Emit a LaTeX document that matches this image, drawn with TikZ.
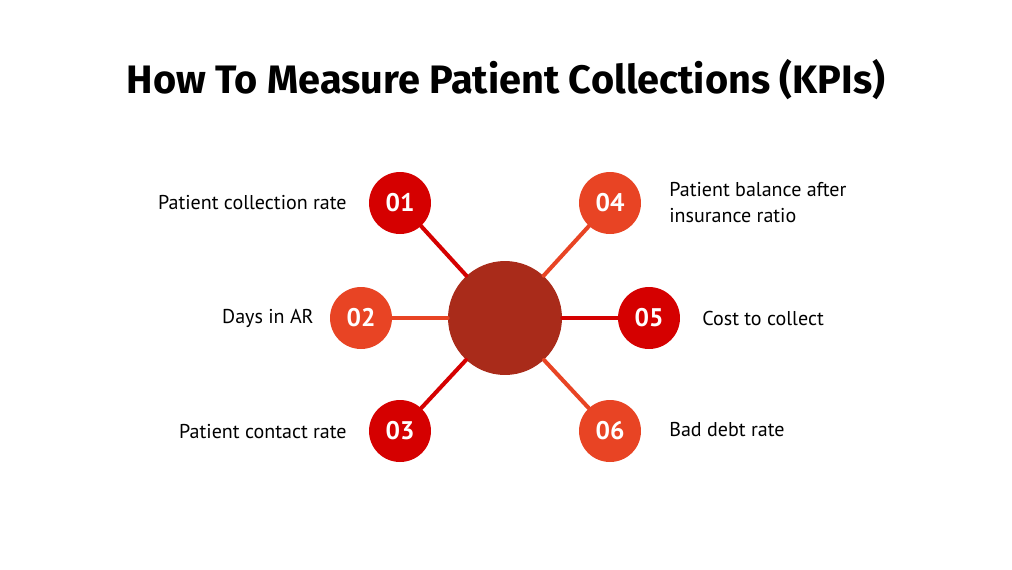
\documentclass[tikz,border=0pt]{standalone}
\usepackage{fontspec}
\setmainfont{PT Sans}
\newfontfamily\titlefont{Fira Sans}
\usetikzlibrary{positioning}
\definecolor{kpidark}{HTML}{D50000}
\definecolor{kpiorange}{HTML}{E84424}
\definecolor{kpihub}{HTML}{A92B1A}
\tikzset{
  kpinum/.style={circle,minimum size=1.24cm,inner sep=0pt,text=white,font=\fontsize{14.5}{16}\selectfont\bfseries},
  kpitext/.style={font=\fontsize{11.4}{14.8}\selectfont,inner sep=0pt,align=left},
  spoke/.style={line width=2.3pt}
}
\begin{document}
\begin{tikzpicture}[x=0.02cm,y=-0.02cm,line join = round, line cap = round]
			\useasboundingbox (0,0) rectangle (1012,569);
			%Tiêu đề
			\node (title) at (506,80) {\titlefont\fontsize{22.6}{26}\selectfont\bfseries How To Measure Patient Collections (KPIs)};
			%Vòng tròn giữa
			\node [circle,fill=kpihub,minimum size=2.28cm,inner sep=0pt] (hub) at (505,318) {};
			%Các vòng số
			\node [kpinum,fill=kpidark] (n1) at (400,203) {01};
			\node [kpinum,fill=kpiorange] (n2) at (361,318) {02};
			\node [kpinum,fill=kpidark] (n3) at (400,431) {03};
			\node [kpinum,fill=kpiorange] (n4) at (610,203) {04};
			\node [kpinum,fill=kpidark] (n5) at (649,318) {05};
			\node [kpinum,fill=kpiorange] (n6) at (610,431) {06};
			%Các nan
			\draw [spoke,kpidark] (hub)--(n1);
			\draw [spoke,kpiorange] (hub)--(n2);
			\draw [spoke,kpidark] (hub)--(n3);
			\draw [spoke,kpiorange] (hub)--(n4);
			\draw [spoke,kpidark] (hub)--(n5);
			\draw [spoke,kpiorange] (hub)--(n6);
			%Nhãn
			\node [kpitext,anchor=east] (t1) at (347,203) {Patient collection rate};
			\node [kpitext,anchor=east] (t2) at (314,318) {Days in AR};
			\node [kpitext,anchor=east] (t3) at (347,432) {Patient contact rate};
			\node [kpitext,anchor=west] (t4) at (669,203) {Patient balance after\\insurance ratio};
			\node [kpitext,anchor=west] (t5) at (702,318) {Cost to collect};
			\node [kpitext,anchor=west] (t6) at (669,430) {Bad debt rate};
		\end{tikzpicture}
\end{document}
